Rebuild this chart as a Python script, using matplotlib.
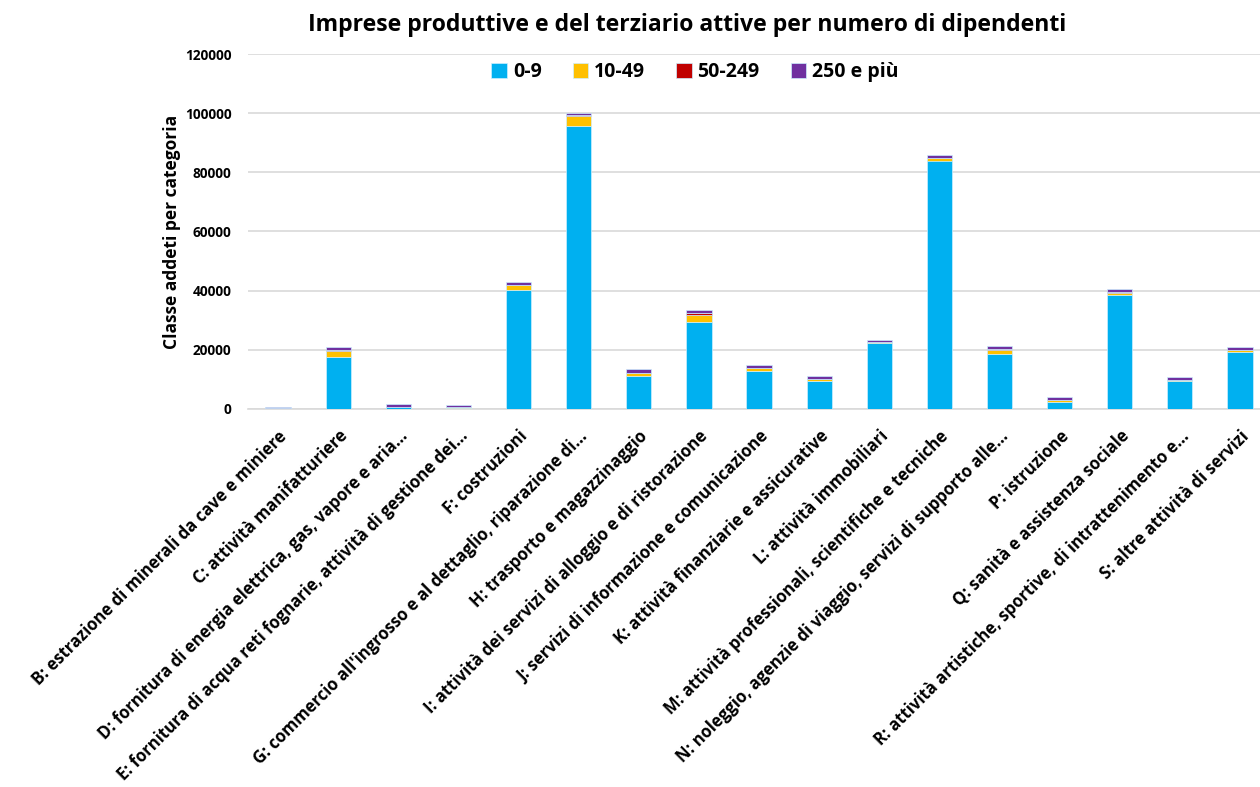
import matplotlib
matplotlib.use("Agg")
import matplotlib.pyplot as plt
import numpy as np

plt.rcParams['font.family'] = ['Open Sans', 'DejaVu Sans']
plt.rcParams['font.weight'] = 'bold'

categories = [
    "B: estrazione di minerali da cave e miniere",
    "C: attività manifatturiere",
    "D: fornitura di energia elettrica, gas, vapore e aria…",
    "E: fornitura di acqua reti fognarie, attività di gestione dei…",
    "F: costruzioni",
    "G: commercio all'ingrosso e al dettaglio, riparazione di…",
    "H: trasporto e magazzinaggio",
    "I: attività dei servizi di alloggio e di ristorazione",
    "J: servizi di informazione e comunicazione",
    "K: attività finanziarie e assicurative",
    "L: attività immobiliari",
    "M: attività professionali, scientifiche e tecniche",
    "N: noleggio, agenzie di viaggio, servizi di supporto alle…",
    "P: istruzione",
    "Q: sanità e assistenza sociale",
    "R: attività artistiche, sportive, di intrattenimento e…",
    "S: altre attività di servizi",
]

cls_0_9 = [150, 17700, 600, 300, 40100, 95700, 11100, 29300, 12800, 9600, 22400, 84000, 18600, 2500, 38500, 9600, 19400]
cls_10_49 = [100, 1800, 80, 300, 1700, 3400, 1000, 2500, 900, 400, 150, 900, 1200, 500, 600, 200, 500]
cls_50_249 = [50, 450, 50, 100, 200, 300, 200, 500, 300, 100, 30, 100, 400, 100, 400, 50, 100]
cls_250 = [350, 900, 800, 800, 800, 700, 1100, 1100, 800, 1000, 900, 800, 1000, 900, 900, 800, 800]

series = [
    ("0-9", cls_0_9, "#00B0F0"),
    ("10-49", cls_10_49, "#FFC000"),
    ("50-249", cls_50_249, "#C00000"),
    ("250 e più", cls_250, "#7030A0"),
]

W, H = 1260, 787
fig = plt.figure(figsize=(W / 100, H / 100), dpi=100)
ax = fig.add_axes([248 / W, (H - 409) / H, (1260 - 248) / W, (409 - 54) / H])

x = np.arange(len(categories))
bottom = np.zeros(len(categories))
for name, vals, col in series:
    v = np.array(vals, dtype=float)
    ax.bar(x, v, bottom=bottom, width=0.42, color=col, label=name,
           edgecolor='#ccefff', linewidth=0.5, zorder=3)
    bottom += v

ax.set_xlim(-0.5, 16.5 - 10 / 60)
ax.set_ylim(0, 120000)
ax.set_yticks(np.arange(0, 120001, 20000))
ax.yaxis.grid(True, color='#d9d9d9', linewidth=1.2, zorder=0)
ax.set_axisbelow(True)
for s in ['top', 'right', 'left']:
    ax.spines[s].set_visible(False)
ax.spines['bottom'].set_color('#d9d9d9')
ax.spines['bottom'].set_linewidth(1.2)
ax.tick_params(axis='both', length=0)
ax.tick_params(axis='y', labelsize=9.8, pad=12)
for t in ax.get_yticklabels():
    t.set_fontweight('bold')

ax.set_xticks(x)
ax.set_xticklabels(categories, rotation=45, ha='right', va='top',
                   rotation_mode='anchor', fontsize=12, fontweight='bold')
ax.tick_params(axis='x', pad=13)

ax.set_ylabel("Classe addeti per categoria", fontsize=12.5, fontweight='bold')
ax.yaxis.set_label_coords(-0.066, 0.5)

fig.text(0.545, 0.968, "Imprese produttive e del terziario attive per numero di dipendenti",
         ha='center', va='center', fontsize=16.6, fontweight='bold')

leg = ax.legend(loc='center', bbox_to_anchor=(695 / W, (H - 72) / H),
                bbox_transform=fig.transFigure, ncol=4, frameon=False,
                prop={'size': 14, 'weight': 'bold'}, handlelength=0.8,
                handleheight=0.8, handletextpad=0.3, columnspacing=1.6)

fig.savefig("out.png", dpi=100, facecolor='white')
